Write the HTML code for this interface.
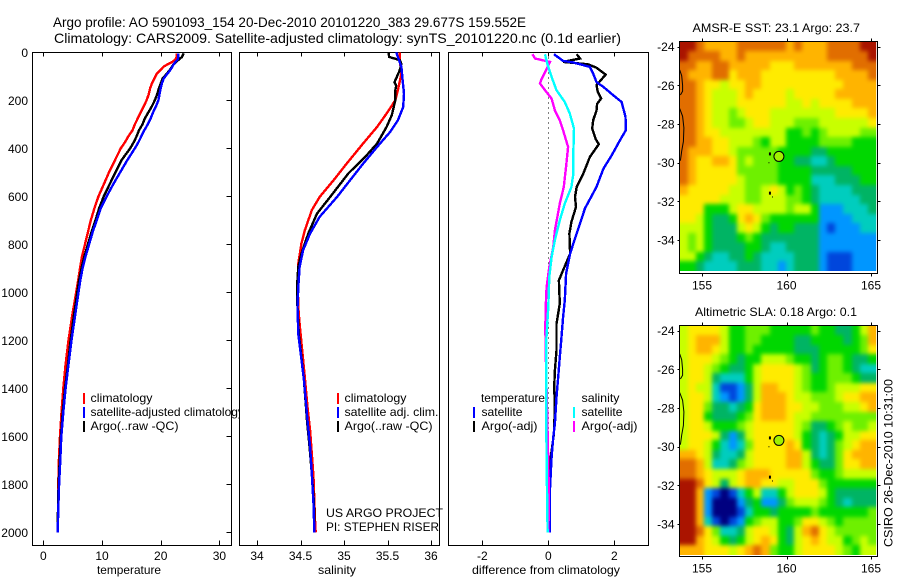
<!DOCTYPE html>
<html lang="en">
<head>
<meta charset="utf-8">
<title>Argo profile chart</title>
<style>
html,body{margin:0;padding:0;background:#fff;}
svg{display:block;font-family:"Liberation Sans",sans-serif;fill:#000;}
text{font-size:12px;fill:#000;}
</style>
</head>
<body>
<svg id="chart" width="900" height="580" viewBox="0 0 900 580" xmlns="http://www.w3.org/2000/svg">
  <defs>
    <clipPath id="legend-clip"><rect x="80" y="380" width="159" height="60"/></clipPath>
    <filter id="map-smooth" x="-15%" y="-15%" width="130%" height="130%" color-interpolation-filters="sRGB">
      <feGaussianBlur stdDeviation="2.2"/>
    </filter>
  </defs>
  <rect x="0" y="0" width="900" height="580" fill="#fff"/>
  <text x="53" y="27" style="font-size:14px" textLength="473" lengthAdjust="spacingAndGlyphs">Argo profile: AO 5901093_154 20-Dec-2010 20101220_383 29.677S 159.552E</text>
  <text x="54" y="43" style="font-size:14px" textLength="567" lengthAdjust="spacingAndGlyphs">Climatology: CARS2009. Satellite-adjusted climatology: synTS_20101220.nc (0.1d earlier)</text>
  <g id="layer-maps"></g>
  <g id="layer-panels"></g>
  <g id="layer-text">
    <text x="97" y="574" textLength="64" lengthAdjust="spacingAndGlyphs">temperature</text>
    <text x="318" y="574" textLength="38" lengthAdjust="spacingAndGlyphs">salinity</text>
    <text x="472" y="574" textLength="148" lengthAdjust="spacingAndGlyphs">difference from climatology</text>

    <rect x="83" y="393" width="2" height="11" fill="#f00"/>
    <rect x="83" y="407" width="2" height="11" fill="#00f"/>
    <rect x="83" y="421" width="2" height="11" fill="#000"/>
    <text x="90.5" y="402" textLength="62" lengthAdjust="spacingAndGlyphs">climatology</text>
    <text x="90.5" y="416" clip-path="url(#legend-clip)">satellite-adjusted climatology</text>
    <text x="90.5" y="430" textLength="88" lengthAdjust="spacingAndGlyphs">Argo(..raw -QC)</text>

    <rect x="337" y="393" width="2" height="11" fill="#f00"/>
    <rect x="337" y="407" width="2" height="11" fill="#00f"/>
    <rect x="337" y="421" width="2" height="11" fill="#000"/>
    <text x="344.5" y="402" textLength="62" lengthAdjust="spacingAndGlyphs">climatology</text>
    <text x="344.5" y="416" textLength="94" lengthAdjust="spacingAndGlyphs">satellite adj. clim.</text>
    <text x="344.5" y="430" textLength="88" lengthAdjust="spacingAndGlyphs">Argo(..raw -QC)</text>

    <text x="326" y="517" textLength="117" lengthAdjust="spacingAndGlyphs">US ARGO PROJECT</text>
    <text x="326" y="531" textLength="113" lengthAdjust="spacingAndGlyphs">PI: STEPHEN RISER</text>

    <text x="481" y="402" textLength="64" lengthAdjust="spacingAndGlyphs">temperature</text>
    <rect x="473" y="407" width="2" height="11" fill="#00f"/>
    <rect x="473" y="421" width="2" height="11" fill="#000"/>
    <text x="481.5" y="416" textLength="41" lengthAdjust="spacingAndGlyphs">satellite</text>
    <text x="481.5" y="430" textLength="56" lengthAdjust="spacingAndGlyphs">Argo(-adj)</text>
    <text x="581.5" y="402" textLength="38" lengthAdjust="spacingAndGlyphs">salinity</text>
    <rect x="573" y="407" width="2" height="11" fill="#0ff"/>
    <rect x="573" y="421" width="2" height="11" fill="#f0f"/>
    <text x="581.5" y="416" textLength="41" lengthAdjust="spacingAndGlyphs">satellite</text>
    <text x="581.5" y="430" textLength="56" lengthAdjust="spacingAndGlyphs">Argo(-adj)</text>

    <text x="692.5" y="32" textLength="167.5" lengthAdjust="spacingAndGlyphs">AMSR-E SST: 23.1 Argo: 23.7</text>
    <text x="695" y="316" textLength="162" lengthAdjust="spacingAndGlyphs">Altimetric SLA: 0.18 Argo: 0.1</text>
    <text transform="translate(892.5,547) rotate(-90)" textLength="168" lengthAdjust="spacingAndGlyphs">CSIRO 26-Dec-2010 10:31:00</text>
  </g>
</svg>
<script>
// ---- tick labels ----
const depthTicks = [0,200,400,600,800,1000,1200,1400,1600,1800,2000];
const tempTicks = [0,10,20,30];
const salTicks = [34,34.5,35,35.5,36];
const diffTicks = [-2,0,2];
const latTicks = [-24,-26,-28,-30,-32,-34];
const lonTicks = [155,160,165];

// ---- temperature panel ----
const tempDepth = [4,10,20,30,40,50,60,75,90,110,130,150,175,200,225,250,275,300,325,350,375,400,450,500,550,600,650,700,750,800,850,900,950,1000,1100,1200,1300,1400,1500,1600,1700,1800,1900,2000];
const tempClim = [22.7,22.7,22.7,22.5,22.0,21.2,20.5,19.9,19.3,18.9,18.5,18.2,17.95,17.6,17.1,16.6,16.1,15.6,15.2,14.5,13.9,13.2,12.2,11.2,10.3,9.4,8.7,8.1,7.6,7.1,6.6,6.25,5.95,5.6,4.9,4.3,3.8,3.4,3.1,2.85,2.65,2.55,2.5,2.45];
const tempSat = [23,23,23,22.9,22.5,22.2,22,21.6,21.1,20.5,20.2,20,19.8,19.6,19.2,18.7,18.3,17.8,17.2,16.7,16.2,15.6,14.3,13.1,11.9,10.8,9.8,9.1,8.4,7.8,7.2,6.7,6.3,6,5.4,4.8,4.3,3.8,3.4,3.07,2.9,2.7,2.55,2.45];
const tempArgo = [23.9,23.8,23.6,23.1,22.6,22.2,21.9,21.5,21,20.3,20,19.7,19.4,19,18.5,17.9,17.3,16.9,16.3,15.9,15.4,14.8,13.3,12.3,11.3,10.3,9.5,8.9,8.2,7.6,7,6.5,6.1,5.8,5.2,4.65,4.2,3.7,3.3,3,2.8,2.6,2.5,2.45];

// ---- salinity panel ----
const salClimDepth = [0,30,89,158,200,255,311,380,464,533,603,658,742,797,880,992,1063,1131,1242,1353,1478,1576,1672,1770,1950,2000];
const salClim = [35.64,35.64,35.66,35.62,35.59,35.49,35.38,35.22,35.03,34.88,34.72,34.63,34.55,34.51,34.475,34.47,34.475,34.49,34.52,34.55,34.58,34.61,34.63,34.65,34.667,34.675];
const salSatDepth = [0,61,103,172,228,283,332,394,464,533,603,686,755,825,894,978,1063,1174,1285,1368,1534,1645,1756,1880,2000];
const salSat = [35.6,35.66,35.67,35.69,35.68,35.62,35.53,35.38,35.22,35.07,34.92,34.72,34.61,34.53,34.49,34.475,34.465,34.475,34.513,34.54,34.58,34.61,34.63,34.65,34.66];
const salArgoDepth = [0,19,33,48,75,100,124,140,158,200,230,262,311,380,429,505,603,672,755,839,894,978,1063,1174,1285,1368,1534,1645,1756,1880,2000];
const salArgo = [35.51,35.52,35.64,35.66,35.64,35.61,35.58,35.6,35.59,35.59,35.57,35.55,35.49,35.38,35.26,35.05,34.84,34.69,34.59,34.51,34.475,34.46,34.465,34.48,34.515,34.54,34.575,34.605,34.63,34.655,34.66];

// ---- difference panel ----
const diffTSatDepth = [8,36,42,61,89,124,144,179,207,269,325,367,429,485,561,651,714,776,839,922,1033,1103,1186,1270,1353,1436,1547,1603,1686,1825,2000];
const diffTSat = [0.17,0.45,0.75,1.26,1.36,1.46,1.67,1.97,2.22,2.34,2.35,2.17,1.92,1.67,1.46,1.11,0.96,0.81,0.66,0.54,0.5,0.45,0.4,0.35,0.3,0.25,0.2,0.15,0.1,0.05,0.05];
const diffTArgoDepth = [8,26,40,50,64,93,137,165,193,215,242,283,318,360,383,436,505,561,603,644,707,755,839,908,950,1047,1131,1242,1325,1395,1478,1590,1714,2000];
const diffTArgo = [0.86,0.96,0.45,1.2,1.46,1.74,1.46,1.5,1.6,1.48,1.46,1.36,1.33,1.43,1.53,1.26,1.06,0.86,0.81,0.84,0.7,0.64,0.66,0.45,0.32,0.35,0.25,0.25,0.2,0.18,0.2,0.17,0.05,0.03];
const diffSSatDepth = [8,47,103,158,207,255,318,408,505,561,630,700,783,853,936,1060,1200,1547,1700,2000];
const diffSSat = [-0.1,-0.03,0.1,0.25,0.5,0.65,0.78,0.76,0.76,0.7,0.5,0.35,0.2,0.1,0.03,0,-0.06,-0.06,-0.05,-0.02];
const diffSArgoDepth = [8,26,40,75,110,130,158,193,242,283,325,394,464,561,630,742,811,894,978,1033,1144,1300,1710,1871,2000];
const diffSArgo = [-0.48,-0.4,0.05,-0.07,-0.2,-0.25,-0.1,0.1,0.2,0.35,0.45,0.6,0.55,0.47,0.35,0.2,0.15,0.03,-0.05,-0.07,-0.09,-0.07,0,0.02,0];

// ---- SST map (colour class per 0.5 degree cell, north to south) ----
const sstGrid = [
[11,11,10,9,9,9,9,10,10,10,10,10,10,9,10,9,9,9,10,10,10,10,11,11],
[11,10,10,10,10,9,9,10,9,9,9,9,9,9,9,9,9,9,10,10,10,10,10,11],
[10,10,9,9,10,10,9,9,9,9,9,8,8,8,9,9,9,9,9,9,9,10,10,10],
[10,9,9,9,10,10,8,9,9,9,8,8,8,8,8,8,8,8,8,9,9,9,9,10],
[10,10,9,8,8,7,8,8,9,9,8,8,8,8,8,8,8,8,8,8,9,9,9,9],
[10,10,9,8,7,7,7,8,9,8,8,8,8,7,8,8,8,8,8,9,9,9,9,9],
[10,10,9,8,7,7,7,8,8,8,8,8,8,7,7,8,7,8,8,8,8,9,9,9],
[10,10,9,8,7,7,6,7,8,8,8,7,7,7,7,7,7,7,7,8,8,8,8,9],
[10,10,9,8,7,7,6,6,7,8,8,7,7,7,6,6,6,7,7,7,7,7,7,8],
[10,10,9,8,8,7,7,7,7,7,7,7,7,5,5,6,5,6,7,7,7,7,6,6],
[10,10,9,9,8,8,7,7,7,6,5,7,7,5,5,5,5,6,6,6,6,5,5,5],
[10,9,9,9,8,8,7,6,6,6,6,6,5,5,5,5,4,4,5,5,5,5,5,5],
[10,9,8,8,9,9,8,6,7,6,6,6,5,5,4,4,3,3,4,5,5,5,5,5],
[10,9,8,8,8,8,8,6,6,6,6,6,5,5,5,5,4,4,4,4,4,5,5,5],
[10,9,8,8,8,8,8,7,6,6,6,6,5,5,5,5,3,3,3,4,4,4,5,5],
[9,8,8,8,8,8,7,7,6,6,7,8,7,5,6,5,4,3,3,3,3,4,4,4],
[8,8,8,8,8,7,7,7,6,6,7,7,7,6,6,5,4,3,3,3,3,3,4,4],
[8,8,8,5,5,5,7,8,8,7,7,7,7,6,7,7,5,2,2,2,3,3,3,4],
[8,8,7,5,4,4,5,8,9,8,6,5,5,5,5,5,5,2,2,2,2,3,3,3],
[7,7,7,5,4,4,4,7,8,7,5,4,5,5,4,4,4,2,1,2,2,2,3,3],
[7,6,7,5,4,4,4,5,6,5,4,4,4,4,4,4,4,2,2,2,2,2,2,2],
[7,6,7,5,4,4,4,4,5,5,4,3,3,4,4,4,4,2,2,2,2,2,2,2],
[7,7,5,4,3,3,4,4,5,4,3,3,3,3,4,4,4,2,1,1,1,2,2,2],
[5,5,4,3,3,3,3,4,4,4,3,3,2,3,4,4,4,2,1,1,1,2,2,2]
];

// ---- SLA map ----
const slaGrid = [
[7,8,8,8,8,7,5,5,6,6,6,5,5,5,5,5,6,5,5,4,4,5,7,9],
[7,8,9,9,9,7,5,5,6,6,5,5,5,5,4,4,5,5,5,5,4,5,6,9],
[7,8,9,9,8,7,5,5,6,5,5,5,5,5,4,4,4,5,5,5,5,5,6,8],
[7,8,8,8,7,6,5,4,5,5,7,7,7,6,5,5,4,5,6,6,5,4,4,5],
[7,8,8,7,6,5,4,4,5,7,8,8,8,8,7,6,4,5,6,6,5,4,3,3],
[7,8,8,7,4,3,3,3,5,7,8,8,8,8,7,6,5,5,6,6,6,5,4,4],
[7,8,7,7,3,1,1,2,4,7,9,9,8,8,7,6,5,5,6,7,7,7,8,8],
[7,8,8,7,3,2,1,2,4,7,9,9,9,8,7,7,6,6,6,7,8,8,9,9],
[7,8,8,6,4,4,3,4,5,8,9,9,9,8,8,7,7,6,6,6,7,7,8,9],
[7,8,8,5,4,4,4,5,6,8,9,9,9,8,7,7,6,6,6,6,6,6,6,6],
[7,8,8,7,5,5,5,6,7,8,8,8,8,8,7,6,4,4,5,6,7,6,6,7],
[7,8,8,8,7,4,2,4,7,8,8,8,8,8,7,5,4,3,4,5,7,7,8,8],
[7,8,8,7,5,3,2,3,6,8,8,8,8,9,8,5,4,3,4,6,7,8,9,9],
[9,9,8,7,4,3,3,4,7,8,8,8,8,9,9,7,4,3,4,6,8,9,9,9],
[10,10,9,7,3,3,4,6,7,8,8,8,8,9,9,7,5,4,4,6,8,8,9,9],
[10,10,9,8,7,7,7,8,9,9,9,8,8,8,8,8,6,5,5,6,7,7,7,7],
[11,11,10,8,7,4,7,8,9,9,8,8,7,7,8,8,8,6,5,5,5,5,5,5],
[11,11,9,2,1,0,1,3,5,7,3,3,5,7,8,8,8,7,5,4,4,4,4,4],
[11,11,9,2,0,0,0,2,4,5,2,2,4,6,7,7,7,6,5,4,3,4,4,4],
[11,11,9,2,0,0,0,1,3,5,5,4,5,5,5,5,6,5,5,5,5,5,5,6],
[11,11,9,3,1,0,1,2,5,6,7,7,5,5,6,8,8,7,6,5,6,6,6,6],
[11,11,10,8,6,3,3,4,7,8,8,7,5,4,7,9,10,8,7,6,6,6,6,6],
[11,11,9,8,7,5,4,5,7,8,9,8,5,4,7,8,9,8,7,7,5,6,7,6],
[9,9,9,8,8,8,7,8,9,10,9,6,5,5,7,8,8,8,8,7,6,5,7,7]
];

// ---- coastline and profile position ----
const coastALon = [153.68,153.8,153.85,153.85,153.72];
const coastALat = [-25.2,-25.5,-26,-26.3,-26.5];
const coastBLon = [153.68,153.85,153.93,153.9,153.8,153.72];
const coastBLat = [-27.2,-27.6,-28.2,-28.9,-29.4,-29.9];
const islandLon = [159.02,158.99,159.02,159.2];
const islandLat = [-29.52,-30.03,-31.55,-31.8];
const profileLon = 159.552;
const profileLat = -29.677;

const palette = ['#000080','#0046dc','#0096ff','#00cdbe','#00b464','#00d700','#6ef000','#c8ff00','#ffeb00','#ffb400','#e16e00','#aa1400'];

const NS = 'http://www.w3.org/2000/svg';
const svgRoot = document.getElementById('chart');
const panelLayer = document.getElementById('layer-panels');
const mapLayer = document.getElementById('layer-maps');

function depthY(d){ return 52.3 + d * 0.24; }
function tempX(v){ return 43.3 + v * 5.87; }
function salX(v){ return 257 + (v - 34) * 87; }
function diffX(v){ return 548.3 + v * 33; }

function addLine(parent, x1, y1, x2, y2, name){
  const el = document.createElementNS(NS, 'line');
  el.setAttribute('x1', x1);
  el.setAttribute('y1', y1);
  el.setAttribute('x2', x2);
  el.setAttribute('y2', y2);
  el.setAttribute('stroke', '#000');
  el.setAttribute('stroke-width', '1');
  el.setAttribute('shape-rendering', 'crispEdges');
  
  
  parent.appendChild(el);
  return el;
}
function addText(parent, x, y, str, anchor, name){
  const el = document.createElementNS(NS, 'text');
  el.setAttribute('x', x);
  el.setAttribute('y', y);
  el.setAttribute('text-anchor', anchor);
  el.textContent = str;
  
  
  parent.appendChild(el);
  return el;
}
function addSeries(parent, depths, values, xf, color, name){
  const pts = values.map((v, i) => xf(v).toFixed(1) + ',' + depthY(depths[i]).toFixed(1)).join(' ');
  const el = document.createElementNS(NS, 'polyline');
  el.setAttribute('points', pts);
  el.setAttribute('fill', 'none');
  el.setAttribute('stroke', color);
  el.setAttribute('stroke-width', '2.4');
  el.setAttribute('shape-rendering', 'crispEdges');
  
  
  parent.appendChild(el);
  return el;
}
function addPanel(left, right, top, bottom, ticks, xf, name){
  const g = document.createElementNS(NS, 'g');
  
  
  panelLayer.appendChild(g);
  const box = document.createElementNS(NS, 'rect');
  box.setAttribute('x', left);
  box.setAttribute('y', top);
  box.setAttribute('width', right - left);
  box.setAttribute('height', bottom - top);
  box.setAttribute('fill', 'none');
  box.setAttribute('stroke', '#000');
  box.setAttribute('shape-rendering', 'crispEdges');
  
  
  g.appendChild(box);
  ticks.forEach(t => {
    const x = Math.round(xf(t)) + 0.5;
    addLine(g, x, top, x, top + 4, name + '-top-tick');
    addLine(g, x, bottom - 5, x, bottom, name + '-bottom-tick');
    addText(g, xf(t), 560, String(t), 'middle', name + '-x-tick-label');
  });
  return g;
}

// profile panels
const panelTemp = addPanel(32.5, 231.5, 52.5, 545.5, tempTicks, tempX, 'temperature-panel');
const panelSal = addPanel(239.5, 439.5, 52.5, 545.5, salTicks, salX, 'salinity-panel');
const panelDiff = addPanel(448.5, 648.5, 52.5, 545.5, diffTicks, diffX, 'difference-panel');

depthTicks.forEach(d => {
  const y = Math.round(depthY(d)) + 0.5;
  addLine(panelTemp, 226.5, y, 231.5, y, 'depth-tick');
  addText(panelTemp, 28, depthY(d) + 4.5, String(d), 'end', 'depth-tick-label');
});

addSeries(panelTemp, tempDepth, tempClim, tempX, '#f00', 'temperature-climatology-line');
addSeries(panelTemp, tempDepth, tempArgo, tempX, '#000', 'temperature-argo-line');
addSeries(panelTemp, tempDepth, tempSat, tempX, '#00f', 'temperature-satellite-line');

addSeries(panelSal, salClimDepth, salClim, salX, '#f00', 'salinity-climatology-line');
addSeries(panelSal, salArgoDepth, salArgo, salX, '#000', 'salinity-argo-line');
addSeries(panelSal, salSatDepth, salSat, salX, '#00f', 'salinity-satellite-line');

const zeroLine = addLine(panelDiff, diffX(0), depthY(0), diffX(0), depthY(2000), 'zero-difference-line');
zeroLine.setAttribute('stroke-dasharray', '1 4');

addSeries(panelDiff, diffTArgoDepth, diffTArgo, diffX, '#000', 'difference-temperature-argo-line');
addSeries(panelDiff, diffTSatDepth, diffTSat, diffX, '#00f', 'difference-temperature-satellite-line');
addSeries(panelDiff, diffSArgoDepth, diffSArgo, diffX, '#f0f', 'difference-salinity-argo-line');
addSeries(panelDiff, diffSSatDepth, diffSSat, diffX, '#0ff', 'difference-salinity-satellite-line');

// maps
function addMap(grid, lat24Y, frameTop, frameBottom, name){
  const g = document.createElementNS(NS, 'g');
  
  
  mapLayer.appendChild(g);
  const lonX = lon => 702 + (lon - 155) * 16.9;
  const latY = lat => lat24Y + (-24 - lat) * 19.33;
  const left = 679.5, right = 877.5;
  const nRows = grid.length;
  const nCols = grid[0].length;
  const cellW = 196.7 / nCols;
  const cellH = 229.5 / nRows;

  const clip = document.createElementNS(NS, 'clipPath');
  clip.setAttribute('id', name + '-clip');
  const clipRect = document.createElementNS(NS, 'rect');
  clipRect.setAttribute('x', left);
  clipRect.setAttribute('y', frameTop);
  clipRect.setAttribute('width', 196.7);
  clipRect.setAttribute('height', 229.5);
  clip.appendChild(clipRect);
  svgRoot.querySelector('defs').appendChild(clip);

  const clipGroup = document.createElementNS(NS, 'g');
  clipGroup.setAttribute('clip-path', 'url(#' + name + '-clip)');
  
  
  g.appendChild(clipGroup);
  const cells = document.createElementNS(NS, 'g');
  cells.setAttribute('filter', 'url(#map-smooth)');
  
  
  clipGroup.appendChild(cells);

  grid.forEach((row, j) => {
    row.forEach((v, i) => {
      // edge cells run past the clip so smoothing does not fade at the border
      const x0 = Math.round(left + i * cellW) - (i === 0 ? 12 : 0);
      const x1 = Math.round(left + (i + 1) * cellW) + (i === nCols - 1 ? 12 : 0);
      const y0 = Math.round(frameTop + j * cellH) - (j === 0 ? 12 : 0);
      const y1 = Math.round(frameTop + (j + 1) * cellH) + (j === nRows - 1 ? 12 : 0);
      const c = document.createElementNS(NS, 'rect');
      c.setAttribute('x', x0);
      c.setAttribute('y', y0);
      c.setAttribute('width', x1 - x0);
      c.setAttribute('height', y1 - y0);
      c.setAttribute('fill', palette[v]);
      c.setAttribute('shape-rendering', 'crispEdges');
      
      
      cells.appendChild(c);
    });
  });
  const drawCoast = (lons, lats, label) => {
    const el = document.createElementNS(NS, 'polyline');
    el.setAttribute('points', lons.map((lo, i) => lonX(lo).toFixed(1) + ',' + latY(lats[i]).toFixed(1)).join(' '));
    el.setAttribute('fill', 'none');
    el.setAttribute('stroke', '#000');
    el.setAttribute('stroke-width', '1');
    
    
    g.appendChild(el);
  };
  drawCoast(coastALon, coastALat, name + '-coastline-north');
  drawCoast(coastBLon, coastBLat, name + '-coastline-south');
  islandLon.forEach((lo, i) => {
    const d = document.createElementNS(NS, 'rect');
    d.setAttribute('x', lonX(lo) - 1);
    d.setAttribute('y', latY(islandLat[i]) - 1);
    d.setAttribute('width', i % 2 === 0 ? 2 : 1);
    d.setAttribute('height', i % 2 === 0 ? 3 : 1);
    d.setAttribute('fill', '#000');
    
    
    g.appendChild(d);
  });
  const circle = document.createElementNS(NS, 'circle');
  circle.setAttribute('cx', lonX(profileLon));
  circle.setAttribute('cy', latY(profileLat));
  circle.setAttribute('r', '5');
  circle.setAttribute('fill', '#a0f000');
  circle.setAttribute('stroke', '#000');
  
  
  g.appendChild(circle);
  const frame = document.createElementNS(NS, 'rect');
  frame.setAttribute('x', left);
  frame.setAttribute('y', frameTop);
  frame.setAttribute('width', right - left);
  frame.setAttribute('height', frameBottom - frameTop);
  frame.setAttribute('fill', 'none');
  frame.setAttribute('stroke', '#000');
  frame.setAttribute('shape-rendering', 'crispEdges');
  
  
  g.appendChild(frame);
  lonTicks.forEach(lo => {
    const x = Math.round(lonX(lo)) + 0.5;
    addLine(g, x, frameTop - 3, x, frameTop, name + '-top-tick');
    addLine(g, x, frameBottom, x, frameBottom + 3, name + '-bottom-tick');
    addText(g, lonX(lo), frameBottom + 16, String(lo), 'middle', name + '-lon-label');
  });
  latTicks.forEach(la => {
    const y = Math.round(latY(la)) + 0.5;
    addLine(g, left - 2, y, left, y, name + '-left-tick');
    addLine(g, right, y, right + 3, y, name + '-right-tick');
    addText(g, 674.5, latY(la) + 4.5, String(la), 'end', name + '-lat-label');
  });
}
addMap(sstGrid, 46.7, 41.5, 273.5, 'sst-map');
addMap(slaGrid, 330.7, 325.5, 556.5, 'sla-map');
</script>
</body>
</html>
